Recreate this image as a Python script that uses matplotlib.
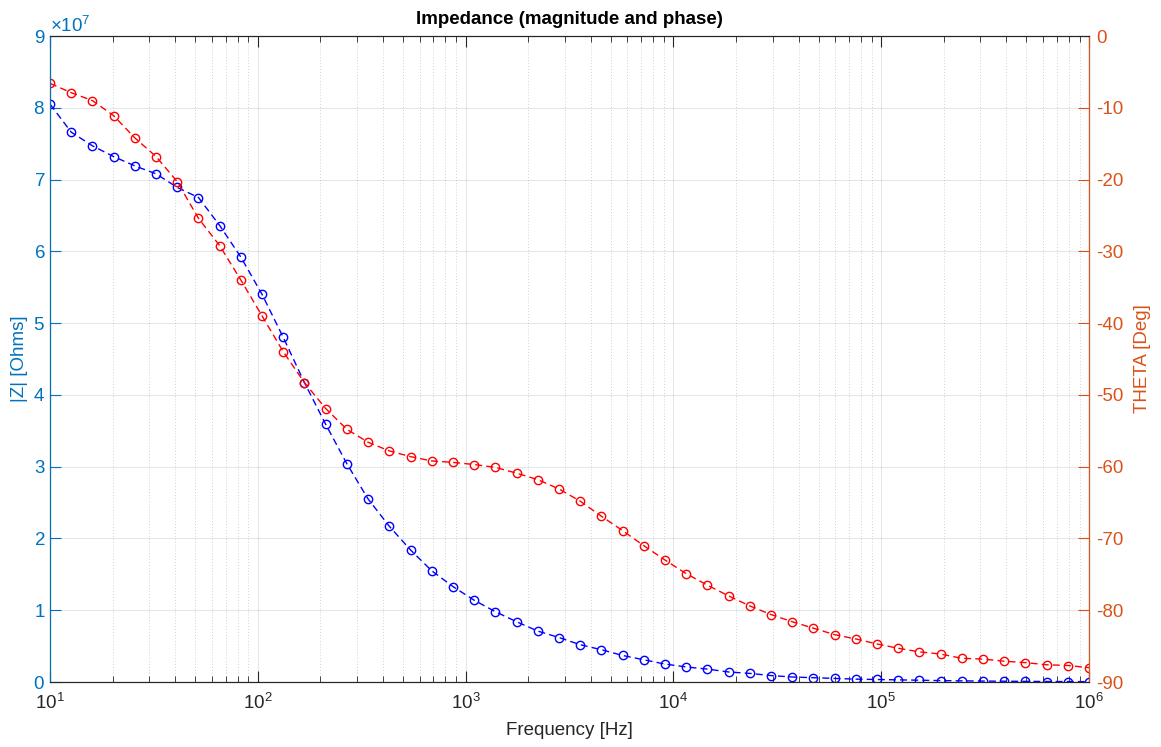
import matplotlib.pyplot as plt
from matplotlib.ticker import ScalarFormatter, LogLocator, MultipleLocator, NullFormatter

plt.rcParams['font.family'] = ['Liberation Sans', 'DejaVu Sans']
plt.rcParams['mathtext.fontset'] = 'custom'
plt.rcParams['mathtext.rm'] = 'Liberation Sans'
plt.rcParams['axes.unicode_minus'] = False

# Frequency sweep [Hz] (50 log-spaced points, 10 Hz .. 1 MHz)
freq = [10.0, 12.65, 16.0, 20.24, 25.6, 32.38, 40.95, 51.79, 65.51, 82.86,
        104.8, 132.6, 167.7, 212.1, 268.3, 339.3, 429.2, 542.9, 686.6, 868.5,
        1098.5, 1389.5, 1757.5, 2223.0, 2811.8, 3556.5, 4498.4, 5689.9, 7196.9, 9103.0,
        11514, 14563, 18421, 23300, 29471, 37276, 47149, 59636, 75431, 95409,
        120679, 152642, 193070, 244205, 308884, 390694, 494171, 625055, 790604, 1000000]

# |Z| in units of 1e7 Ohms
z_mag = [8.05, 7.66, 7.47, 7.32, 7.19, 7.08, 6.89, 6.75, 6.36, 5.92,
         5.40, 4.80, 4.17, 3.59, 3.04, 2.55, 2.17, 1.84, 1.55, 1.33,
         1.14, 0.98, 0.84, 0.71, 0.62, 0.52, 0.45, 0.37, 0.31, 0.25,
         0.21, 0.18, 0.14, 0.12, 0.09, 0.07, 0.06, 0.05, 0.04, 0.035,
         0.03, 0.025, 0.02, 0.016, 0.013, 0.011, 0.009, 0.007, 0.006, 0.005]
z_mag = [v * 1e7 for v in z_mag]

# phase [deg]
theta = [-6.6, -7.9, -9.0, -11.1, -14.2, -16.8, -20.3, -25.4, -29.2, -34.0,
         -39.0, -44.0, -48.3, -51.9, -54.8, -56.6, -57.8, -58.6, -59.2, -59.4,
         -59.7, -60.1, -60.9, -61.8, -63.1, -64.8, -66.9, -68.9, -71.0, -73.0,
         -74.9, -76.5, -78.0, -79.4, -80.6, -81.6, -82.5, -83.4, -84.0, -84.7,
         -85.3, -85.8, -86.1, -86.7, -86.8, -87.1, -87.3, -87.6, -87.7, -88.0]

c_left = '#0072BD'
c_right = '#D95319'
c_axis = '#262626'

fig = plt.figure(figsize=(11.61, 7.47), dpi=100)
ax = fig.add_axes([0.0431, 0.087, 0.8949, 0.8648])
ax2 = ax.twinx()

ax.plot(freq, z_mag, color='blue', linestyle='--', dashes=(5, 3), linewidth=1.0,
        marker='o', markersize=6, markerfacecolor='none', markeredgewidth=1.0)
ax2.plot(freq, theta, color='red', linestyle='--', dashes=(5, 3), linewidth=1.0,
         marker='o', markersize=6, markerfacecolor='none', markeredgewidth=1.0)

ax.set_xscale('log')
ax.set_xlim(10, 1e6)
ax.set_ylim(0, 9e7)
ax2.set_ylim(-90, 0)

ax.xaxis.set_major_locator(LogLocator(base=10, numticks=10))
ax.xaxis.set_minor_locator(LogLocator(base=10, subs=range(2, 10), numticks=100))
ax.xaxis.set_minor_formatter(NullFormatter())
ax.yaxis.set_major_locator(MultipleLocator(1e7))
ax2.yaxis.set_major_locator(MultipleLocator(10))

fmt = ScalarFormatter(useMathText=True)
fmt.set_powerlimits((0, 0))
ax.yaxis.set_major_formatter(fmt)
ax.yaxis.get_offset_text().set_color(c_left)
ax.yaxis.get_offset_text().set_fontsize(13.5)

# grid
ax.grid(True, which='major', color='#26466a', alpha=0.12, linewidth=0.8)
ax.grid(True, which='minor', axis='x', color='#262626', alpha=0.28,
        linestyle=(0, (1, 2.5)), linewidth=0.6)
ax.set_axisbelow(True)

# ticks
ax.tick_params(axis='x', which='both', direction='in', top=True, colors=c_axis,
               labelsize=13.5, pad=8)
ax.tick_params(axis='x', which='major', length=8, width=0.8)
ax.tick_params(axis='x', which='minor', length=4, width=0.6)
ax.tick_params(axis='y', direction='in', length=8, width=0.8, colors=c_left,
               labelsize=13.5, right=False)
ax2.tick_params(axis='y', direction='in', length=8, width=0.8, colors=c_right,
                labelsize=13.5, pad=5)

for s in ['top', 'bottom']:
    ax.spines[s].set_color(c_axis)
    ax.spines[s].set_linewidth(0.8)
ax2.spines['left'].set_color(c_left)
ax2.spines['right'].set_color(c_right)
ax2.spines['top'].set_color(c_axis)
ax2.spines['bottom'].set_color(c_axis)
for s in ax2.spines.values():
    s.set_linewidth(0.8)

ax.set_xlabel('Frequency [Hz]', fontsize=13.5, color=c_axis, labelpad=6)
ax.set_ylabel('|Z| [Ohms]', fontsize=13.5, color=c_left, labelpad=4)
ax2.set_ylabel('THETA [Deg]', fontsize=13.5, color=c_right, labelpad=8)
ax.set_title('Impedance (magnitude and phase)', fontsize=13.5, fontweight='bold',
             color='black', pad=9)

fig.savefig('out.png', dpi=100, facecolor='white')
plt.close(fig)
